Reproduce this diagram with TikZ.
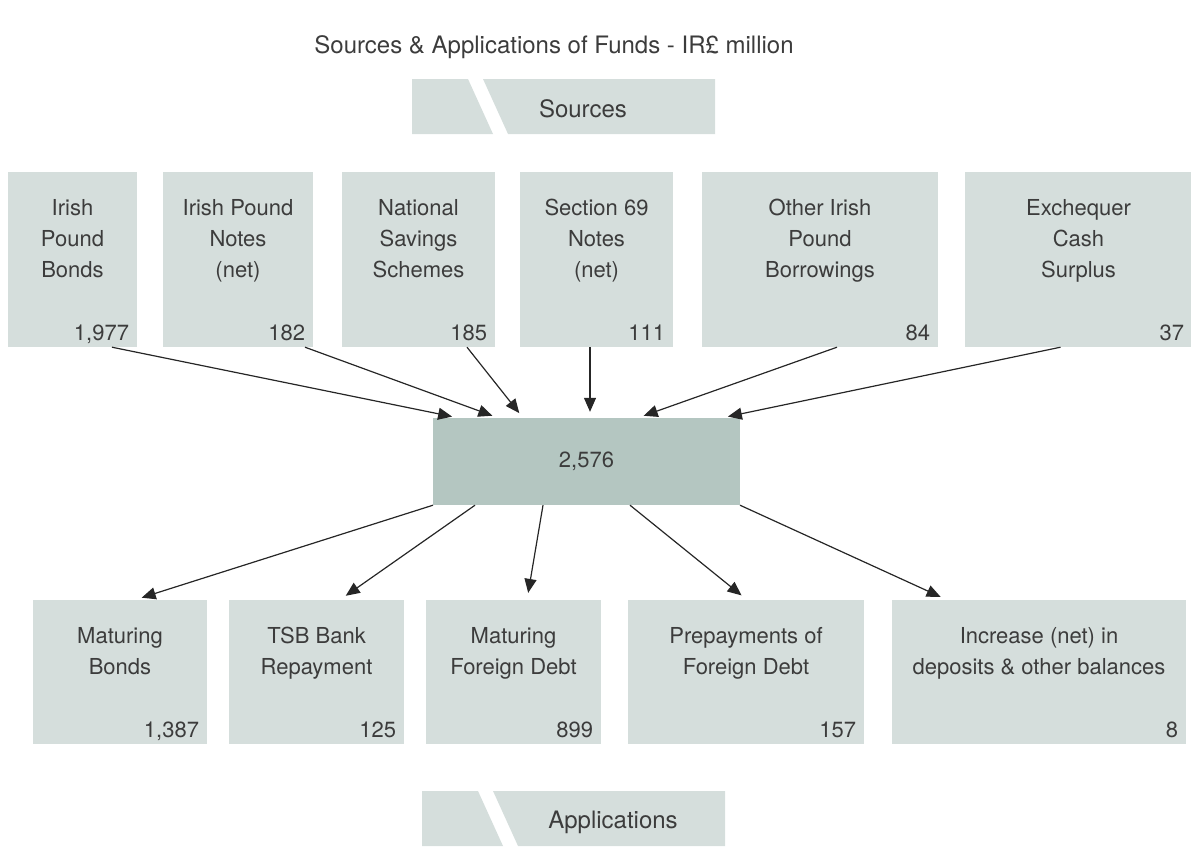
\documentclass[tikz,border=0pt]{standalone}
\usepackage{fontspec}
\setmainfont{TeX Gyre Heros}
\usetikzlibrary{arrows.meta}
\definecolor{boxgray}{HTML}{D5DEDC}
\definecolor{totalgray}{HTML}{B4C6C1}
\definecolor{inkgray}{HTML}{3C3C3C}
\tikzset{
  fundbox/.style={fill=boxgray, draw=none, inner sep=0pt},
  boxtext/.style={anchor=north, inner sep=0pt, yshift=-27pt, align=center, text=inkgray},
  boxnum/.style={anchor=base east, inner sep=0pt, xshift=-8pt, yshift=7pt, text=inkgray},
  flow/.style={-{Triangle[length=14pt,width=12pt]}, line width=1.2pt, draw=black!85},
}

\begin{document}
\begin{tikzpicture}[x=1pt, y=-1pt, font=\fontsize{22}{31}\selectfont]
      \useasboundingbox (0,0) rectangle (1191,846);

      \node[text=inkgray, font=\fontsize{24}{28}\selectfont] (title) at (554,47)
        {Sources \& Applications of Funds - IR£ million};

      % banner
      \fill[boxgray] (412,79) -- (468,79) -- (493,134) -- (412,134) -- cycle;
      \fill[boxgray] (483,79) -- (715,79) -- (715,134) -- (508,134) -- cycle;
      \node[text=inkgray, font=\fontsize{24}{28}\selectfont] (srclabel) at (583,109) {Sources};

      \node[fundbox, minimum width=129pt, minimum height=175pt,
        label={[boxtext]north:Irish\\Pound\\Bonds},
        label={[boxnum]south east:{1,977}}] (bonds) at (72.5,259.5) {};
      \node[fundbox, minimum width=150pt, minimum height=175pt,
        label={[boxtext]north:Irish Pound\\Notes\\(net)},
        label={[boxnum]south east:182}] (notes) at (238,259.5) {};
      \node[fundbox, minimum width=153pt, minimum height=175pt,
        label={[boxtext]north:National\\Savings\\Schemes},
        label={[boxnum]south east:185}] (savings) at (418.5,259.5) {};
      \node[fundbox, minimum width=153pt, minimum height=175pt,
        label={[boxtext]north:Section 69\\Notes\\(net)},
        label={[boxnum]south east:111}] (sec69) at (596.5,259.5) {};
      \node[fundbox, minimum width=236pt, minimum height=175pt,
        label={[boxtext]north:Other Irish\\Pound\\Borrowings},
        label={[boxnum]south east:84}] (otherirish) at (820,259.5) {};
      \node[fundbox, minimum width=227pt, minimum height=175pt,
        label={[boxtext]north:Exchequer\\Cash\\Surplus},
        label={[boxnum]south east:37}] (surplus) at (1078.5,259.5) {};

      \node[fill=totalgray, minimum width=307pt, minimum height=87pt, inner sep=0pt,
        text=inkgray] (total) at (586.5,461.5) {2,576};

      \draw[flow, shorten >=6pt] ([xshift=39.5pt]bonds.south) -- ([xshift=-128.5pt]total.north);
      \draw[flow, shorten >=6pt] ([xshift=67pt]notes.south) -- ([xshift=-88.5pt]total.north);
      \draw[flow, shorten >=6pt] ([xshift=48.5pt]savings.south) -- ([xshift=-63.5pt]total.north);
      \draw[flow, shorten >=6pt] ([xshift=-6.5pt]sec69.south) -- ([xshift=3.5pt]total.north);
      \draw[flow, shorten >=6pt] ([xshift=17pt]otherirish.south) -- ([xshift=51.5pt]total.north);
      \draw[flow, shorten >=6pt] ([xshift=-18pt]surplus.south) -- ([xshift=135.5pt]total.north);

      \node[fundbox, minimum width=174pt, minimum height=144pt,
        label={[boxtext]north:Maturing\\Bonds},
        label={[boxnum]south east:{1,387}}] (matbonds) at (120,672) {};
      \node[fundbox, minimum width=175pt, minimum height=144pt,
        label={[boxtext]north:TSB Bank\\Repayment},
        label={[boxnum]south east:125}] (tsb) at (316.5,672) {};
      \node[fundbox, minimum width=175pt, minimum height=144pt,
        label={[boxtext]north:Maturing\\Foreign Debt},
        label={[boxnum]south east:899}] (matforeign) at (513.5,672) {};
      \node[fundbox, minimum width=236pt, minimum height=144pt,
        label={[boxtext]north:Prepayments of\\Foreign Debt},
        label={[boxnum]south east:157}] (prepay) at (746,672) {};
      \node[fundbox, minimum width=294pt, minimum height=144pt,
        label={[boxtext]north:Increase (net) in\\deposits \& other balances},
        label={[boxnum]south east:8}] (deposits) at (1039,672) {};

      \draw[flow, shorten >=7pt] ([xshift=-153.5pt]total.south) -- ([xshift=15pt]matbonds.north);
      \draw[flow, shorten >=7pt] ([xshift=-111.5pt]total.south) -- ([xshift=23.5pt]tsb.north);
      \draw[flow, shorten >=7pt] ([xshift=-43.5pt]total.south) -- ([xshift=13.5pt]matforeign.north);
      \draw[flow, shorten >=7pt] ([xshift=43.5pt]total.south) -- ([xshift=1pt]prepay.north);
      \draw[flow, shorten >=7pt] ([xshift=153.5pt]total.south) -- ([xshift=-92pt]deposits.north);

      % banner
      \fill[boxgray] (422,791) -- (478,791) -- (503,846) -- (422,846) -- cycle;
      \fill[boxgray] (493,791) -- (725,791) -- (725,846) -- (518,846) -- cycle;
      \node[text=inkgray, font=\fontsize{24}{28}\selectfont] (applabel) at (613,822) {Applications};
    \end{tikzpicture}
\end{document}
